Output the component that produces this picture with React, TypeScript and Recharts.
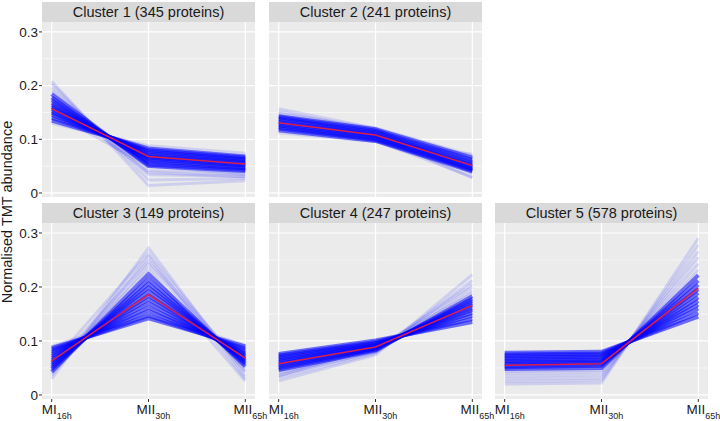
import React from 'react'
import { LineChart, Line, XAxis, YAxis, CartesianGrid } from 'recharts'

// time points on the x axis and their labels (main text + subscript)
const TIME_POINTS = [1, 2, 3]
const TIME_LABELS = [['MI', '16h'], ['MII', '30h'], ['MII', '65h']]
const Y_TICKS = [0, 0.1, 0.2, 0.3]
const Y_MINOR = [0.05, 0.15, 0.25]
const Y_DOMAIN: [number, number] = [-0.0075, 0.3185]
const X_DOMAIN: [number, number] = [0.9, 3.1]

const CLUSTER_NAMES = [
  'Cluster 1 (345 proteins)',
  'Cluster 2 (241 proteins)',
  'Cluster 3 (149 proteins)',
  'Cluster 4 (247 proteins)',
  'Cluster 5 (578 proteins)',
]

// profiles: [MI16h, MII30h, MII65h]
const C1_MEAN = [0.157, 0.068, 0.054]
const C1_CORE = [
  [0.135, 0.083, 0.068], [0.140, 0.080, 0.066], [0.145, 0.077, 0.063], [0.149, 0.074, 0.061],
  [0.153, 0.071, 0.058], [0.157, 0.068, 0.056], [0.160, 0.066, 0.053], [0.164, 0.063, 0.051],
  [0.168, 0.060, 0.048], [0.173, 0.057, 0.046], [0.178, 0.053, 0.043], [0.184, 0.050, 0.041],
]
const C1_SPREAD = [
  [0.130, 0.088, 0.074], [0.190, 0.042, 0.036], [0.196, 0.034, 0.031], [0.203, 0.024, 0.027],
  [0.208, 0.014, 0.023], [0.176, 0.038, 0.030], [0.150, 0.050, 0.035],
]

const C2_MEAN = [0.131, 0.108, 0.051]
const C2_CORE = [
  [0.117, 0.097, 0.040], [0.120, 0.099, 0.042], [0.123, 0.101, 0.044], [0.126, 0.104, 0.047],
  [0.129, 0.106, 0.049], [0.132, 0.108, 0.052], [0.135, 0.111, 0.055], [0.138, 0.113, 0.058],
  [0.141, 0.116, 0.062], [0.143, 0.119, 0.066],
]
const C2_SPREAD = [
  [0.148, 0.121, 0.070], [0.152, 0.116, 0.045], [0.157, 0.120, 0.036], [0.146, 0.106, 0.028],
  [0.125, 0.097, 0.030], [0.112, 0.096, 0.072],
]

const C3_MEAN = [0.063, 0.186, 0.068]
const C3_CORE = [
  [0.043, 0.224, 0.053], [0.048, 0.214, 0.057], [0.052, 0.206, 0.060], [0.056, 0.199, 0.063],
  [0.060, 0.192, 0.066], [0.064, 0.184, 0.069], [0.068, 0.177, 0.072], [0.072, 0.170, 0.075],
  [0.076, 0.162, 0.078], [0.080, 0.155, 0.082], [0.084, 0.147, 0.086], [0.087, 0.142, 0.090],
]
const C3_SPREAD = [
  [0.030, 0.272, 0.035], [0.036, 0.256, 0.030], [0.040, 0.242, 0.045], [0.045, 0.234, 0.026],
  [0.058, 0.262, 0.042], [0.050, 0.248, 0.050], [0.090, 0.150, 0.092],
]

const C4_MEAN = [0.058, 0.089, 0.166]
const C4_CORE = [
  [0.046, 0.082, 0.183], [0.049, 0.084, 0.178], [0.052, 0.086, 0.174], [0.055, 0.087, 0.170],
  [0.058, 0.089, 0.166], [0.061, 0.091, 0.161], [0.064, 0.092, 0.157], [0.067, 0.094, 0.152],
  [0.070, 0.096, 0.147], [0.073, 0.098, 0.141], [0.076, 0.101, 0.135],
]
const C4_SPREAD = [
  [0.026, 0.074, 0.223], [0.032, 0.077, 0.212], [0.037, 0.080, 0.200], [0.041, 0.079, 0.193],
  [0.044, 0.083, 0.205], [0.035, 0.088, 0.188],
]

const C5_MEAN = [0.055, 0.058, 0.198]
const C5_CORE = [
  [0.078, 0.080, 0.145], [0.075, 0.077, 0.152], [0.072, 0.074, 0.160], [0.069, 0.071, 0.167],
  [0.066, 0.068, 0.174], [0.063, 0.065, 0.181], [0.060, 0.062, 0.189], [0.057, 0.060, 0.196],
  [0.054, 0.057, 0.204], [0.051, 0.054, 0.212], [0.048, 0.050, 0.222],
]
const C5_SPREAD = [
  [0.044, 0.046, 0.232], [0.040, 0.042, 0.243], [0.035, 0.037, 0.255], [0.030, 0.032, 0.266],
  [0.025, 0.027, 0.278], [0.020, 0.022, 0.290],
]

const FONT = '"Liberation Sans", Arial, sans-serif'
const PANEL_BG = '#ebebeb'
const STRIP_BG = '#d9d9d9'
const TEXT = '#1a1a1a'
const LINE_BLUE = '#0000ff'
const MEAN_RED = '#dc1e4a'

const PLOT_W = 213
const STRIP_H = 20
const Y_AXIS_W = 28
const X_AXIS_H = 22
const COL_X = [42, 269, 495]
const ROW_Y = [22, 223]
const ROW_H = [175, 176]

function buildRows(mean: number[], core: number[][], spread: number[][]) {
  return TIME_POINTS.map((t, i) => {
    const row: Record<string, number> = { t, mean: mean[i] }
    core.forEach((p, j) => { row['c' + j] = p[i] })
    spread.forEach((p, j) => { row['s' + j] = p[i] })
    return row
  })
}

function TimeTick(props: any) {
  const { x, y, payload } = props
  const lab = TIME_LABELS[TIME_POINTS.indexOf(payload.value)]
  return (
    <text x={x + 5} y={y + 10} textAnchor="middle" fontFamily={FONT} fill={TEXT}>
      <tspan fontSize={13.5}>{lab[0]}</tspan>
      <tspan fontSize={9} dy={5}>{lab[1]}</tspan>
    </text>
  )
}

interface PanelProps {
  name: string
  mean: number[]
  core: number[][]
  spread: number[][]
  col: number
  row: number
  showY: boolean
  showX: boolean
}

function Panel({ name, mean, core, spread, col, row, showY, showX }: PanelProps) {
  const left = COL_X[col]
  const top = ROW_Y[row]
  const h = ROW_H[row]
  const rows = buildRows(mean, core, spread)
  const yw = showY ? Y_AXIS_W : 0
  return (
    <>
      <div style={{
        position: 'absolute', left, top: top - STRIP_H, width: PLOT_W, height: STRIP_H,
        background: STRIP_BG, color: TEXT, fontFamily: FONT, fontSize: 14.5,
        display: 'flex', alignItems: 'center', justifyContent: 'center', whiteSpace: 'nowrap',
      }}>{name}</div>
      <div style={{ position: 'absolute', left, top, width: PLOT_W, height: h, background: PANEL_BG }} />
      <div style={{ position: 'absolute', left: left - yw, top }}>
        <LineChart width={PLOT_W + yw} height={h + (showX ? X_AXIS_H : 0)} data={rows}
          margin={{ top: 0, right: 0, bottom: 0, left: 0 }}>
          <CartesianGrid horizontal vertical={false} horizontalValues={Y_MINOR} stroke="#ffffff" strokeWidth={0.6} />
          <CartesianGrid horizontal vertical horizontalValues={Y_TICKS} verticalValues={TIME_POINTS} stroke="#ffffff" strokeWidth={1.2} />
          <XAxis type="number" dataKey="t" domain={X_DOMAIN} ticks={TIME_POINTS} allowDataOverflow interval={0}
            hide={!showX} height={X_AXIS_H} axisLine={false} tickSize={3} tickLine={{ stroke: '#333333' }}
            tick={<TimeTick />} />
          <YAxis type="number" domain={Y_DOMAIN} ticks={Y_TICKS} allowDataOverflow interval={0}
            hide={!showY} width={Y_AXIS_W} axisLine={false} tickSize={3} tickMargin={1}
            tickLine={{ stroke: '#333333' }}
            tick={{ fontSize: 13.5, fill: TEXT, fontFamily: FONT }}
            tickFormatter={(v: number) => (v === 0 ? '0' : v.toFixed(1))} />
          {spread.map((_, j) => (
            <Line key={'s' + j} type="linear" dataKey={'s' + j} stroke={LINE_BLUE} strokeOpacity={0.12}
              strokeWidth={3} dot={false} activeDot={false} isAnimationActive={false} />
          ))}
          {core.map((_, j) => (
            <Line key={'c' + j} type="linear" dataKey={'c' + j} stroke={LINE_BLUE} strokeOpacity={0.55}
              strokeWidth={4} dot={false} activeDot={false} isAnimationActive={false} />
          ))}
          <Line type="linear" dataKey="mean" stroke={MEAN_RED} strokeWidth={1.5} dot={false}
            activeDot={false} isAnimationActive={false} />
        </LineChart>
      </div>
    </>
  )
}

export default function App() {
  return (
    <div style={{ position: 'absolute', left: 0, top: 0, width: 720, height: 421, background: '#ffffff', overflow: 'hidden' }}>
      <style>{`.recharts-surface { overflow: visible; } .recharts-wrapper { overflow: visible; }`}</style>
      <svg width={24} height={421} style={{ position: 'absolute', left: 0, top: 0 }}>
        <text transform="translate(12,212) rotate(-90)" textAnchor="middle" fontFamily={FONT} fontSize={14.5} fill={TEXT}>
          Normalised TMT abundance
        </text>
      </svg>
      <Panel name={CLUSTER_NAMES[0]} mean={C1_MEAN} core={C1_CORE} spread={C1_SPREAD} col={0} row={0} showY showX={false} />
      <Panel name={CLUSTER_NAMES[1]} mean={C2_MEAN} core={C2_CORE} spread={C2_SPREAD} col={1} row={0} showY={false} showX={false} />
      <Panel name={CLUSTER_NAMES[2]} mean={C3_MEAN} core={C3_CORE} spread={C3_SPREAD} col={0} row={1} showY showX />
      <Panel name={CLUSTER_NAMES[3]} mean={C4_MEAN} core={C4_CORE} spread={C4_SPREAD} col={1} row={1} showY={false} showX />
      <Panel name={CLUSTER_NAMES[4]} mean={C5_MEAN} core={C5_CORE} spread={C5_SPREAD} col={2} row={1} showY={false} showX />
    </div>
  )
}
